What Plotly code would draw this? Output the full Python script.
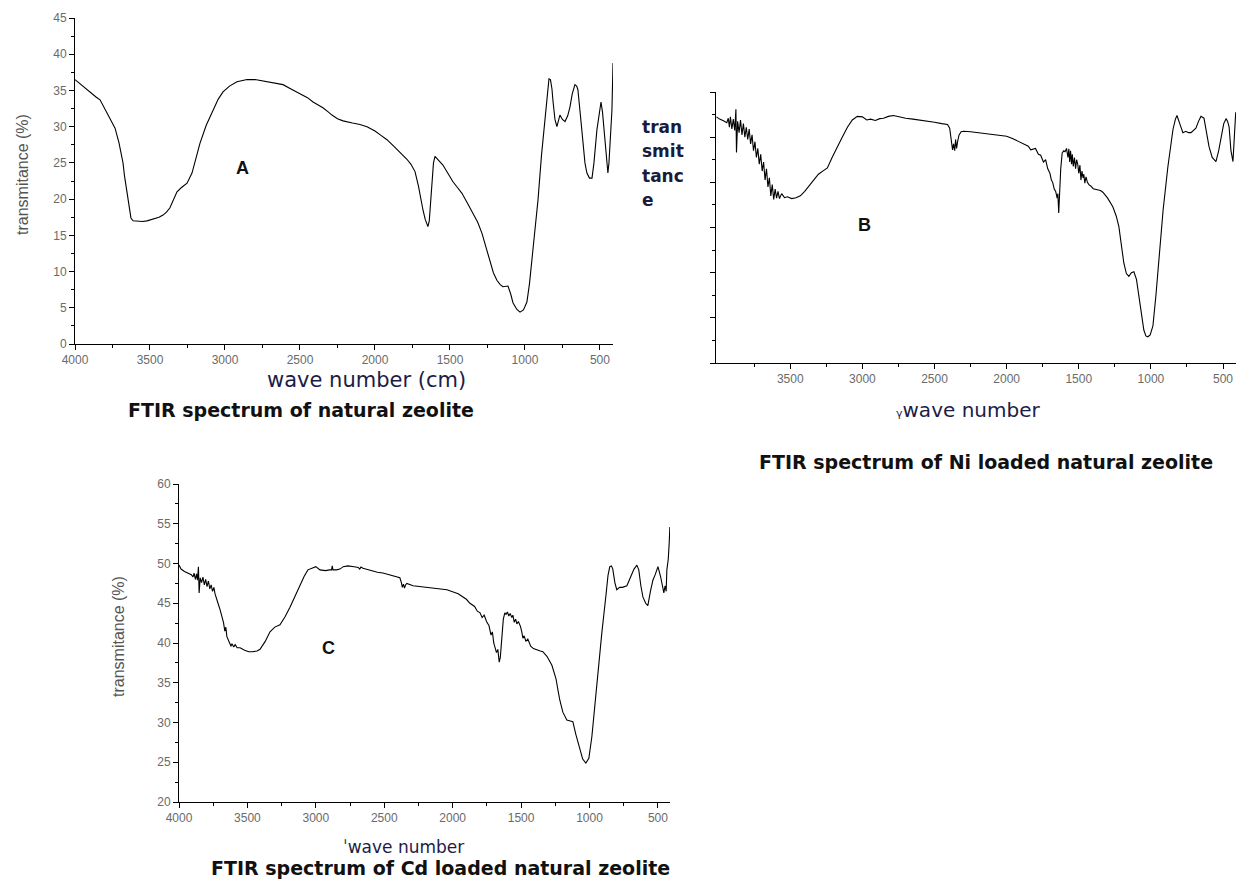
import plotly.graph_objects as go

W, H = 1238, 880

# ---------------- data ----------------
# Panel A: natural zeolite  (wavenumber, transmittance %)
spec_a = [(4000, 36.5), (3950, 35.6), (3900, 34.8), (3860, 34.1), (3833, 33.7), (3810, 32.8), (3787, 31.9),
          (3760, 30.9), (3733, 29.8), (3707, 27.8), (3690, 26.2), (3680, 25.0), (3670, 23.2), (3660, 21.7),
          (3645, 19.5), (3635, 18.0), (3627, 17.4), (3613, 17.0), (3580, 16.9), (3550, 16.9), (3520, 17.0),
          (3480, 17.2), (3440, 17.5), (3413, 17.8), (3390, 18.2), (3367, 18.8), (3345, 19.8), (3320, 21.0),
          (3290, 21.6), (3253, 22.2), (3220, 23.6), (3195, 25.5), (3167, 27.7), (3125, 30.2), (3080, 32.3),
          (3045, 33.8), (3013, 34.8), (2970, 35.6), (2920, 36.2), (2853, 36.5), (2800, 36.5), (2747, 36.3),
          (2680, 36.1), (2613, 35.8), (2560, 35.2), (2500, 34.6), (2450, 34.0), (2413, 33.4), (2380, 33.0),
          (2347, 32.6), (2310, 32.0), (2287, 31.6), (2250, 31.1), (2213, 30.8), (2150, 30.5), (2100, 30.3),
          (2053, 30.0), (2000, 29.4), (1960, 28.8), (1920, 28.2), (1870, 27.2), (1820, 26.2), (1787, 25.5),
          (1760, 24.8), (1733, 23.8), (1710, 21.8), (1695, 20.0), (1680, 18.5), (1665, 17.2), (1647, 16.2),
          (1638, 17.0), (1630, 19.5), (1620, 22.5), (1610, 25.0), (1600, 25.9), (1585, 25.6), (1570, 25.2),
          (1547, 24.7), (1515, 23.6), (1480, 22.4), (1450, 21.6), (1420, 20.8), (1385, 19.5), (1347, 18.1),
          (1315, 16.8), (1287, 15.3), (1260, 13.4), (1233, 11.2), (1210, 9.8), (1187, 8.8), (1165, 8.2),
          (1147, 7.9), (1130, 7.9), (1113, 8.0), (1095, 6.9), (1080, 5.7), (1055, 4.8), (1033, 4.4),
          (1010, 4.7), (987, 5.8), (970, 8.3), (953, 11.6), (935, 15.5), (913, 19.9), (890, 26.0),
          (867, 31.4), (850, 35.0), (840, 36.6), (830, 36.5), (820, 35.2), (813, 33.5), (800, 31.0),
          (787, 30.0), (777, 30.8), (767, 31.6), (750, 31.0), (733, 30.7), (715, 31.5), (700, 32.7),
          (685, 34.5), (667, 35.8), (655, 35.6), (647, 35.1), (630, 31.5), (613, 27.7), (600, 25.0),
          (587, 23.6), (570, 22.9), (553, 22.9), (540, 25.0), (520, 29.6), (505, 32.0), (493, 33.4),
          (483, 32.0), (473, 29.6), (463, 27.0), (453, 25.4), (447, 23.6), (440, 25.0), (433, 27.2),
          (425, 30.5), (420, 32.3), (413, 38.8)]

# Panel B: Ni loaded zeolite (wavenumber, transmittance in axis units, unlabeled axis)
spec_b = [(4012, 5.45), (3990, 5.40), (3960, 5.36), (3940, 5.32), (3930, 5.42), (3922, 5.22), (3915, 5.45),
          (3905, 5.18), (3895, 5.40), (3885, 5.15), (3877, 5.62), (3873, 4.66), (3865, 5.35), (3855, 5.10),
          (3845, 5.38), (3835, 5.05), (3825, 5.30), (3815, 5.00), (3805, 5.22), (3795, 4.95), (3785, 5.18),
          (3775, 4.85), (3765, 5.05), (3755, 4.70), (3745, 4.90), (3735, 4.55), (3725, 4.75), (3715, 4.40),
          (3705, 4.62), (3695, 4.25), (3685, 4.45), (3675, 4.05), (3665, 4.30), (3655, 3.90), (3645, 4.10),
          (3635, 3.70), (3625, 3.95), (3615, 3.62), (3605, 3.85), (3595, 3.65), (3585, 3.80), (3575, 3.64),
          (3560, 3.75), (3540, 3.66), (3520, 3.68), (3490, 3.64), (3460, 3.66), (3430, 3.70), (3400, 3.80),
          (3370, 3.92), (3340, 4.05), (3305, 4.18), (3270, 4.26), (3243, 4.32), (3210, 4.55), (3173, 4.80),
          (3140, 5.00), (3104, 5.22), (3070, 5.38), (3035, 5.46), (3000, 5.45), (2970, 5.38), (2944, 5.40),
          (2910, 5.37), (2880, 5.41), (2854, 5.42), (2820, 5.46), (2785, 5.48), (2750, 5.45), (2700, 5.42),
          (2650, 5.40), (2600, 5.38), (2550, 5.35), (2500, 5.33), (2450, 5.30), (2410, 5.28), (2395, 5.20),
          (2385, 4.95), (2375, 4.72), (2368, 4.85), (2360, 4.70), (2354, 4.95), (2347, 4.75), (2340, 4.90),
          (2330, 5.05), (2315, 5.12), (2299, 5.13), (2250, 5.12), (2200, 5.10), (2150, 5.09), (2100, 5.07),
          (2063, 5.06), (2000, 5.02), (1960, 4.97), (1924, 4.92), (1880, 4.85), (1850, 4.80), (1833, 4.72),
          (1800, 4.75), (1780, 4.62), (1764, 4.60), (1745, 4.45), (1730, 4.50), (1715, 4.30), (1700, 4.20),
          (1690, 4.05), (1681, 4.00), (1670, 3.85), (1660, 3.80), (1650, 3.65), (1645, 3.75), (1639, 3.32),
          (1634, 3.75), (1625, 4.30), (1615, 4.65), (1604, 4.70), (1595, 4.68), (1585, 4.75), (1575, 4.55),
          (1569, 4.74), (1563, 4.45), (1557, 4.70), (1550, 4.40), (1545, 4.62), (1538, 4.35), (1530, 4.55),
          (1522, 4.30), (1515, 4.50), (1507, 4.40), (1500, 4.20), (1492, 4.38), (1485, 4.05), (1478, 4.25),
          (1470, 4.10), (1465, 4.18), (1458, 3.98), (1450, 4.12), (1440, 4.00), (1430, 3.95), (1417, 3.92),
          (1400, 3.86), (1385, 3.85), (1368, 3.84), (1350, 3.82), (1333, 3.78), (1300, 3.65), (1264, 3.46),
          (1240, 3.25), (1222, 3.02), (1205, 2.60), (1188, 2.22), (1170, 1.98), (1153, 1.92), (1135, 2.00),
          (1118, 2.02), (1100, 1.85), (1083, 1.50), (1065, 1.05), (1049, 0.73), (1035, 0.60), (1021, 0.58),
          (1005, 0.62), (986, 0.82), (965, 1.50), (944, 2.35), (915, 3.40), (882, 4.35), (865, 4.80),
          (847, 5.17), (830, 5.40), (819, 5.48), (800, 5.30), (778, 5.10), (757, 5.13), (740, 5.10),
          (722, 5.10), (705, 5.14), (688, 5.20), (670, 5.35), (653, 5.46), (632, 5.42), (615, 5.10),
          (597, 4.79), (575, 4.55), (549, 4.46), (530, 4.70), (514, 5.01), (495, 5.30), (479, 5.41),
          (468, 5.35), (458, 5.23), (445, 4.70), (431, 4.46), (424, 4.90), (417, 5.25), (412, 5.55)]

# Panel C: Cd loaded zeolite (wavenumber, transmittance %)
spec_c = [(4000, 49.8), (3985, 49.3), (3960, 49.0), (3930, 48.8), (3910, 48.6), (3898, 48.3), (3890, 48.8),
          (3880, 48.0), (3872, 48.7), (3865, 47.9), (3858, 49.6), (3853, 46.3), (3845, 48.2), (3835, 47.6),
          (3825, 48.3), (3815, 47.3), (3805, 48.0), (3795, 47.1), (3785, 47.8), (3775, 46.8), (3765, 47.3),
          (3755, 46.5), (3745, 47.0), (3737, 46.2), (3728, 45.8), (3715, 45.0), (3700, 44.2), (3686, 43.3),
          (3675, 42.6), (3665, 41.5), (3658, 42.0), (3650, 40.8), (3640, 40.3), (3630, 40.0), (3620, 39.6),
          (3613, 39.9), (3600, 39.5), (3590, 39.8), (3575, 39.4), (3554, 39.4), (3520, 39.1), (3490, 38.9),
          (3460, 38.9), (3430, 39.0), (3408, 39.2), (3370, 40.2), (3335, 41.4), (3300, 42.0), (3262, 42.3),
          (3225, 43.3), (3189, 44.5), (3150, 46.0), (3116, 47.3), (3085, 48.4), (3058, 49.2), (3030, 49.4),
          (3000, 49.6), (2970, 49.2), (2930, 49.1), (2900, 49.2), (2885, 49.2), (2880, 49.7), (2875, 49.2),
          (2850, 49.2), (2824, 49.3), (2800, 49.6), (2766, 49.7), (2720, 49.6), (2690, 49.5), (2680, 49.3),
          (2670, 49.55), (2656, 49.4), (2600, 49.1), (2550, 48.9), (2510, 48.8), (2450, 48.5), (2400, 48.3),
          (2386, 48.2), (2375, 47.6), (2368, 47.0), (2360, 47.4), (2352, 46.9), (2345, 47.3), (2335, 47.5),
          (2290, 47.2), (2200, 47.0), (2100, 46.8), (2042, 46.7), (1960, 46.2), (1900, 45.5), (1874, 45.0),
          (1840, 44.6), (1820, 44.0), (1800, 43.8), (1785, 43.2), (1770, 43.5), (1750, 42.6), (1735, 42.2),
          (1720, 41.0), (1710, 41.4), (1700, 40.0), (1692, 39.6), (1680, 38.8), (1670, 39.2), (1660, 37.6),
          (1652, 38.2), (1640, 40.5), (1630, 43.0), (1619, 43.8), (1610, 43.6), (1600, 43.9), (1590, 43.4),
          (1580, 43.7), (1568, 43.2), (1560, 43.5), (1550, 42.6), (1540, 43.0), (1531, 42.4), (1520, 42.7),
          (1505, 42.1), (1495, 41.4), (1487, 40.6), (1478, 40.9), (1465, 40.2), (1451, 40.5), (1430, 39.6),
          (1410, 39.3), (1385, 39.1), (1360, 39.0), (1341, 38.9), (1310, 38.3), (1275, 37.2), (1245, 35.5),
          (1230, 34.0), (1217, 32.8), (1195, 31.3), (1175, 30.5), (1166, 30.3), (1140, 30.2), (1122, 30.1),
          (1100, 28.5), (1085, 27.5), (1071, 26.5), (1050, 25.4), (1027, 24.9), (1005, 25.5), (983, 28.2),
          (965, 31.5), (950, 34.0), (935, 36.5), (910, 41.3), (880, 46.0), (865, 48.5), (852, 49.6),
          (840, 49.7), (830, 49.3), (815, 47.6), (801, 46.7), (780, 47.0), (760, 47.0), (727, 47.2),
          (700, 48.3), (675, 49.3), (654, 49.8), (640, 49.2), (625, 47.2), (610, 45.8), (590, 45.0),
          (574, 44.7), (555, 46.5), (537, 47.9), (520, 48.6), (500, 49.6), (480, 48.3), (470, 47.5),
          (457, 46.3), (448, 47.2), (440, 46.5), (435, 49.2), (425, 50.5), (418, 52.5), (413, 54.6)]

b_xticks = [3500, 3000, 2500, 2000, 1500, 1000, 500]
b_xminor = [3750, 3250, 2750, 2250, 1750, 1250, 750]

titles = ["FTIR spectrum of natural zeolite",
          "FTIR spectrum of Ni loaded natural zeolite",
          "FTIR spectrum of Cd loaded natural zeolite"]
panel_letters = ["A", "B", "C"]
b_ylabel_lines = ["tran", "smit", "tanc", "e"]

# ---------------- figure ----------------
def px(x):
    return x / W

def py(y):
    return 1 - y / H

fig = go.Figure()
line = dict(color="black", width=1.1)
for spec, xa, ya in [(spec_a, "x", "y"), (spec_b, "x2", "y2"), (spec_c, "x3", "y3")]:
    xs, ys = zip(*spec)
    fig.add_trace(go.Scatter(x=list(xs), y=list(ys), mode="lines", line=line,
                             xaxis=xa, yaxis=ya, showlegend=False, hoverinfo="skip"))

tickfont = dict(family="Liberation Sans Narrow, Arial Narrow, Liberation Sans, sans-serif",
                size=12, color="#6a6a6a")
base = dict(showline=True, linecolor="black", linewidth=1, ticks="outside", ticklen=5,
            tickcolor="black", showgrid=False, zeroline=False, tickfont=tickfont,
            automargin=False)

def minor(d, length=3):
    return dict(ticks="outside", ticklen=length, tickcolor="black", dtick=d, showgrid=False)

fig.update_layout(
    width=W, height=H, margin=dict(l=0, r=0, t=0, b=0, autoexpand=False),
    paper_bgcolor="white", plot_bgcolor="white",
    xaxis=dict(**base, domain=[px(75), px(613)], range=[4000, 413], dtick=500, tick0=0,
               minor=minor(250), anchor="y"),
    yaxis=dict(**base, domain=[py(344), py(18)], range=[0, 45], dtick=5, minor=minor(2.5),
               anchor="x"),
    xaxis2=dict(**base, domain=[px(716), px(1236)], range=[4015, 410], tickmode="array",
                tickvals=b_xticks, minor=dict(ticks="outside", ticklen=3, tickcolor="black",
                                              tickmode="array", tickvals=b_xminor, showgrid=False),
                anchor="y2"),
    yaxis2=dict(**base, domain=[py(363), py(92)], range=[0, 6], dtick=1, showticklabels=False,
                minor=minor(0.5), anchor="x2"),
    xaxis3=dict(**base, domain=[px(179), px(670)], range=[4000, 412], dtick=500, tick0=0,
                minor=minor(250), anchor="y3"),
    yaxis3=dict(**base, domain=[py(802), py(484)], range=[20, 60], dtick=5, minor=minor(2.5),
                anchor="x3"),
)

ann = []
title_font = dict(family="DejaVu Sans", size=19, color="#111111")
for txt, (x, y) in zip(titles, [(301, 410), (986, 462), (440, 868)]):
    ann.append(dict(text="<b>%s</b>" % txt, x=px(x), y=py(y), xref="paper", yref="paper",
                    showarrow=False, xanchor="center", yanchor="middle", font=title_font))

letter_font = dict(family="Liberation Sans", size=18, color="#111111")
for txt, (x, y) in zip(panel_letters, [(242, 168), (864, 225), (328, 648)]):
    ann.append(dict(text="<b>%s</b>" % txt, x=px(x), y=py(y), xref="paper", yref="paper",
                    showarrow=False, xanchor="center", yanchor="middle", font=letter_font))

xt_font = dict(family="DejaVu Sans", color="#1c1c48")
ann.append(dict(text="wave number (cm)", x=px(366), y=py(380), xref="paper", yref="paper",
                showarrow=False, xanchor="center", yanchor="middle", font=dict(**xt_font, size=21)))
ann.append(dict(text="<span style='font-size:11px'>γ</span>wave number", x=px(968), y=py(410),
                xref="paper", yref="paper", showarrow=False, xanchor="center", yanchor="middle",
                font=dict(**xt_font, size=20)))
ann.append(dict(text="ˈwave number", x=px(403), y=py(847), xref="paper", yref="paper",
                showarrow=False, xanchor="center", yanchor="middle", font=dict(**xt_font, size=17)))

yt_font = dict(family="Liberation Sans Narrow, Arial Narrow, sans-serif", size=16, color="#555555")
ann.append(dict(text="transmitance (%)", x=px(22), y=py(175), xref="paper", yref="paper",
                showarrow=False, textangle=-90, xanchor="center", yanchor="middle", font=yt_font))
ann.append(dict(text="transmitance (%)", x=px(118), y=py(637), xref="paper", yref="paper",
                showarrow=False, textangle=-90, xanchor="center", yanchor="middle", font=yt_font))

for txt, y in zip(b_ylabel_lines, [127, 151, 176, 200]):
    ann.append(dict(text="<b>%s</b>" % txt, x=px(640), y=py(y), xref="paper", yref="paper",
                    showarrow=False, xanchor="left", yanchor="middle",
                    font=dict(family="DejaVu Sans", size=17, color="#1a1a3a")))

fig.update_layout(annotations=ann)
fig.write_html("out.html")
